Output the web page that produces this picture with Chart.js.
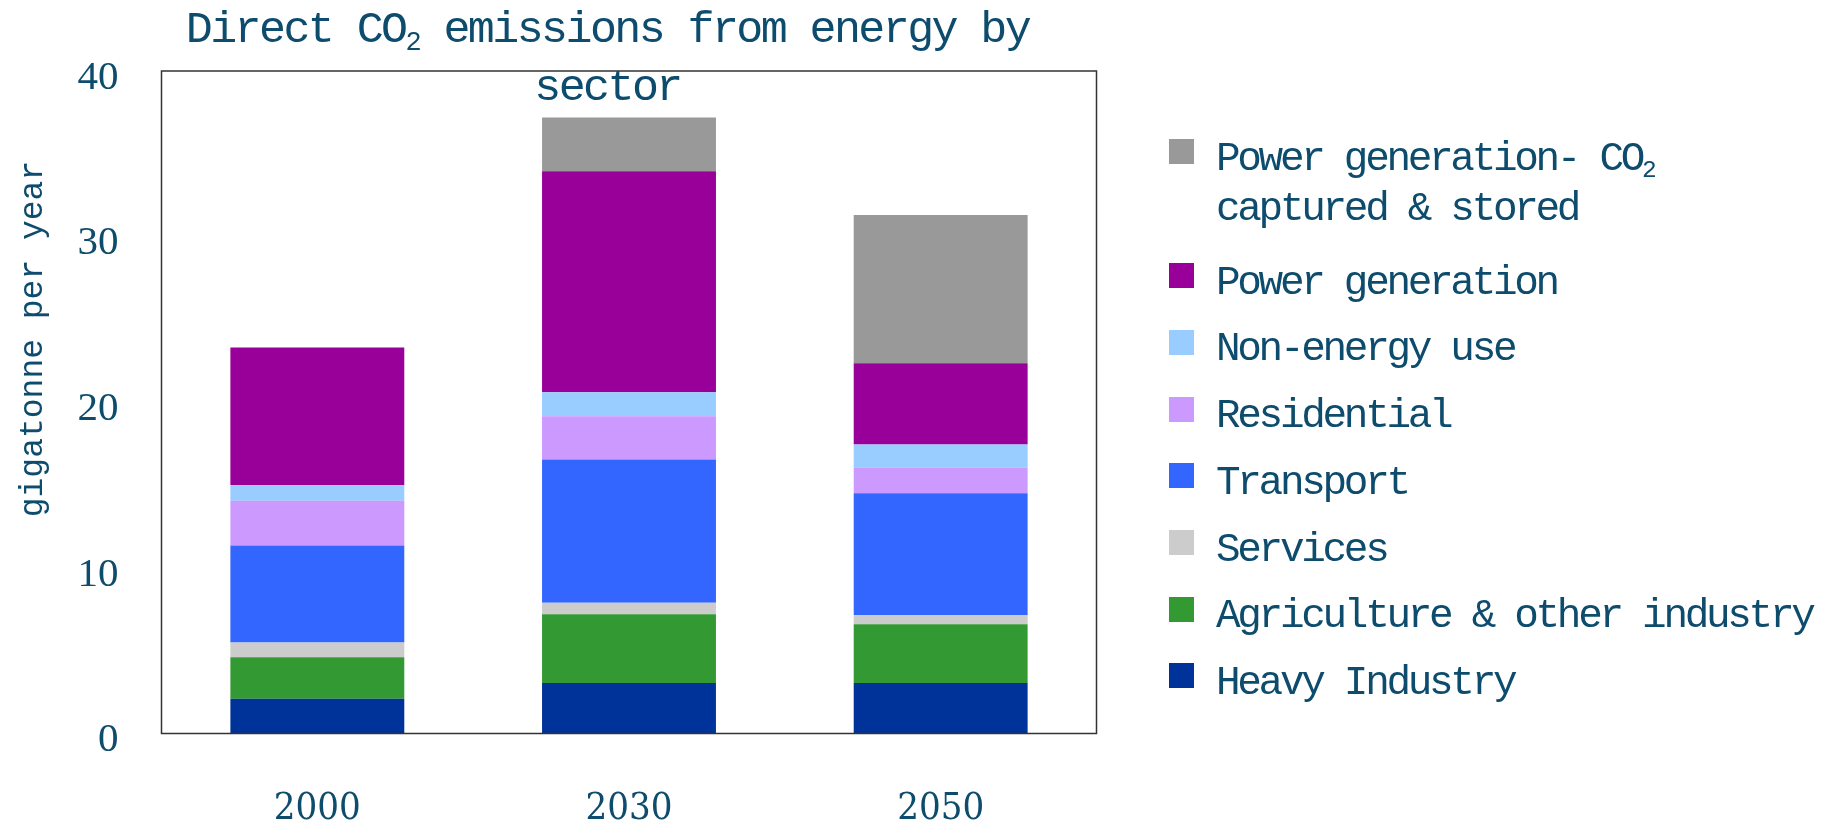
<!DOCTYPE html>
<html>
<head>
<meta charset="utf-8">
<title>Direct CO2 emissions from energy by sector</title>
<script src="https://cdn.jsdelivr.net/npm/chart.js@4/dist/chart.umd.min.js"></script>
<style>
  body { margin: 0; background: #fff; }
  #wrap { position: relative; width: 1835px; height: 827px; overflow: hidden; }
  #chart { position: absolute; left: 0; top: 0; }
  .txt { color: #0e4c6e; font-family: 'Liberation Mono', monospace; white-space: nowrap; }
  #title { position: absolute; left: 0; top: 2px; width: 1215px; text-align: center;
           font-size: 45px; line-height: 58px; letter-spacing: -2.6px; }
  #ylabel { position: absolute; left: -166px; top: 319px; width: 400px; height: 40px;
            line-height: 40px; text-align: center; font-size: 33px;
            transform: rotate(-90deg); transform-origin: center; }
  #legend { position: absolute; left: 1169px; top: 139px; }
  .row { position: relative; width: 660px; height: 66.7px; }
  .row.first { height: 124.3px; }
  .box { position: absolute; left: 0; top: 0; width: 25px; height: 25px; }
  .label { position: absolute; left: 47px; top: -5.5px; font-size: 41px; line-height: 50px;
           letter-spacing: -3.3px; white-space: pre; }
  sub { font-size: 0.6em; line-height: 0; vertical-align: -0.3em; }
</style>
</head>
<body>
<div id="wrap">
  <canvas id="chart" width="1835" height="827"></canvas>
  <div id="title" class="txt">Direct CO<sub>2</sub> emissions from energy by<br>sector</div>
  <div id="ylabel" class="txt">gigatonne per year</div>
  <div id="legend" class="txt"></div>
</div>
<script>
// Data (gigatonne CO2 per year)
const categories = ['2000', '2030', '2050'];
const heavyIndustry = [2.1, 3.05, 3.05];
const agriculture = [2.5, 4.15, 3.55];
const services = [0.9, 0.7, 0.55];
const transport = [5.85, 8.65, 7.35];
const residential = [2.7, 2.6, 1.55];
const nonEnergy = [0.95, 1.45, 1.4];
const powerGeneration = [8.3, 13.35, 4.9];
const powerCCS = [0, 3.25, 8.95];
const yTicks = [0, 10, 20, 30, 40];

const textColor = '#0e4c6e';

// bottom to top of each stack
const series = [
  { label: 'Heavy Industry', data: heavyIndustry, color: '#003399' },
  { label: 'Agriculture & other industry', data: agriculture, color: '#339933' },
  { label: 'Services', data: services, color: '#cccccc' },
  { label: 'Transport', data: transport, color: '#3366ff' },
  { label: 'Residential', data: residential, color: '#cc99ff' },
  { label: 'Non-energy use', data: nonEnergy, color: '#99ccff' },
  { label: 'Power generation', data: powerGeneration, color: '#990099' },
  { label: 'Power generation- CO2\ncaptured & stored', data: powerCCS, color: '#999999' }
];

// box around the plot area
const framePlugin = {
  id: 'frame',
  afterDatasetsDraw(chart) {
    const { ctx, chartArea: a } = chart;
    ctx.save();
    ctx.strokeStyle = '#333333';
    ctx.lineWidth = 1.5;
    ctx.strokeRect(a.left, a.top, a.right - a.left, a.bottom - a.top);
    ctx.restore();
  }
};

const ctx = document.getElementById('chart').getContext('2d');
const chart = new Chart(ctx, {
  type: 'bar',
  data: {
    labels: categories,
    datasets: series.map(s => ({
      label: s.label.replace('\n', ' '),
      data: s.data,
      backgroundColor: s.color,
      borderWidth: 0,
      barPercentage: 0.558,
      categoryPercentage: 1.0
    }))
  },
  options: {
    responsive: false,
    animation: false,
    layout: { padding: { top: 71, right: 738.5, bottom: 0, left: 0 } },
    plugins: {
      legend: { display: false },
      title: { display: false },
      tooltip: { enabled: false }
    },
    scales: {
      x: {
        stacked: true,
        grid: { display: false, drawTicks: false },
        border: { display: false },
        ticks: {
          color: textColor,
          padding: 53,
          font: { family: "'DejaVu Serif Condensed', 'Liberation Mono', serif", size: 38 }
        },
        afterFit(scale) { scale.height = 93.5; }
      },
      y: {
        stacked: true,
        min: yTicks[0],
        max: yTicks[yTicks.length - 1],
        grid: { display: false, drawTicks: false },
        border: { display: false },
        ticks: {
          stepSize: yTicks[1] - yTicks[0],
          color: textColor,
          padding: 43,
          labelOffset: 7,
          font: { family: "'Liberation Serif', serif", size: 41 }
        },
        afterFit(scale) { scale.width = 161.5; }
      }
    }
  },
  plugins: [framePlugin]
});

// Legend, top entry first (reverse of stacking order)
const legendEl = document.getElementById('legend');
series.slice().reverse().forEach((s, i) => {
  const row = document.createElement('div');
  row.className = i === 0 ? 'row first' : 'row';
  const box = document.createElement('div');
  box.className = 'box';
  box.style.background = s.color;
  const label = document.createElement('div');
  label.className = 'label';
  label.innerHTML = s.label.replace('&', '&amp;').replace('CO2', 'CO<sub>2</sub>');
  row.appendChild(box);
  row.appendChild(label);
  legendEl.appendChild(row);
});
</script>
</body>
</html>
